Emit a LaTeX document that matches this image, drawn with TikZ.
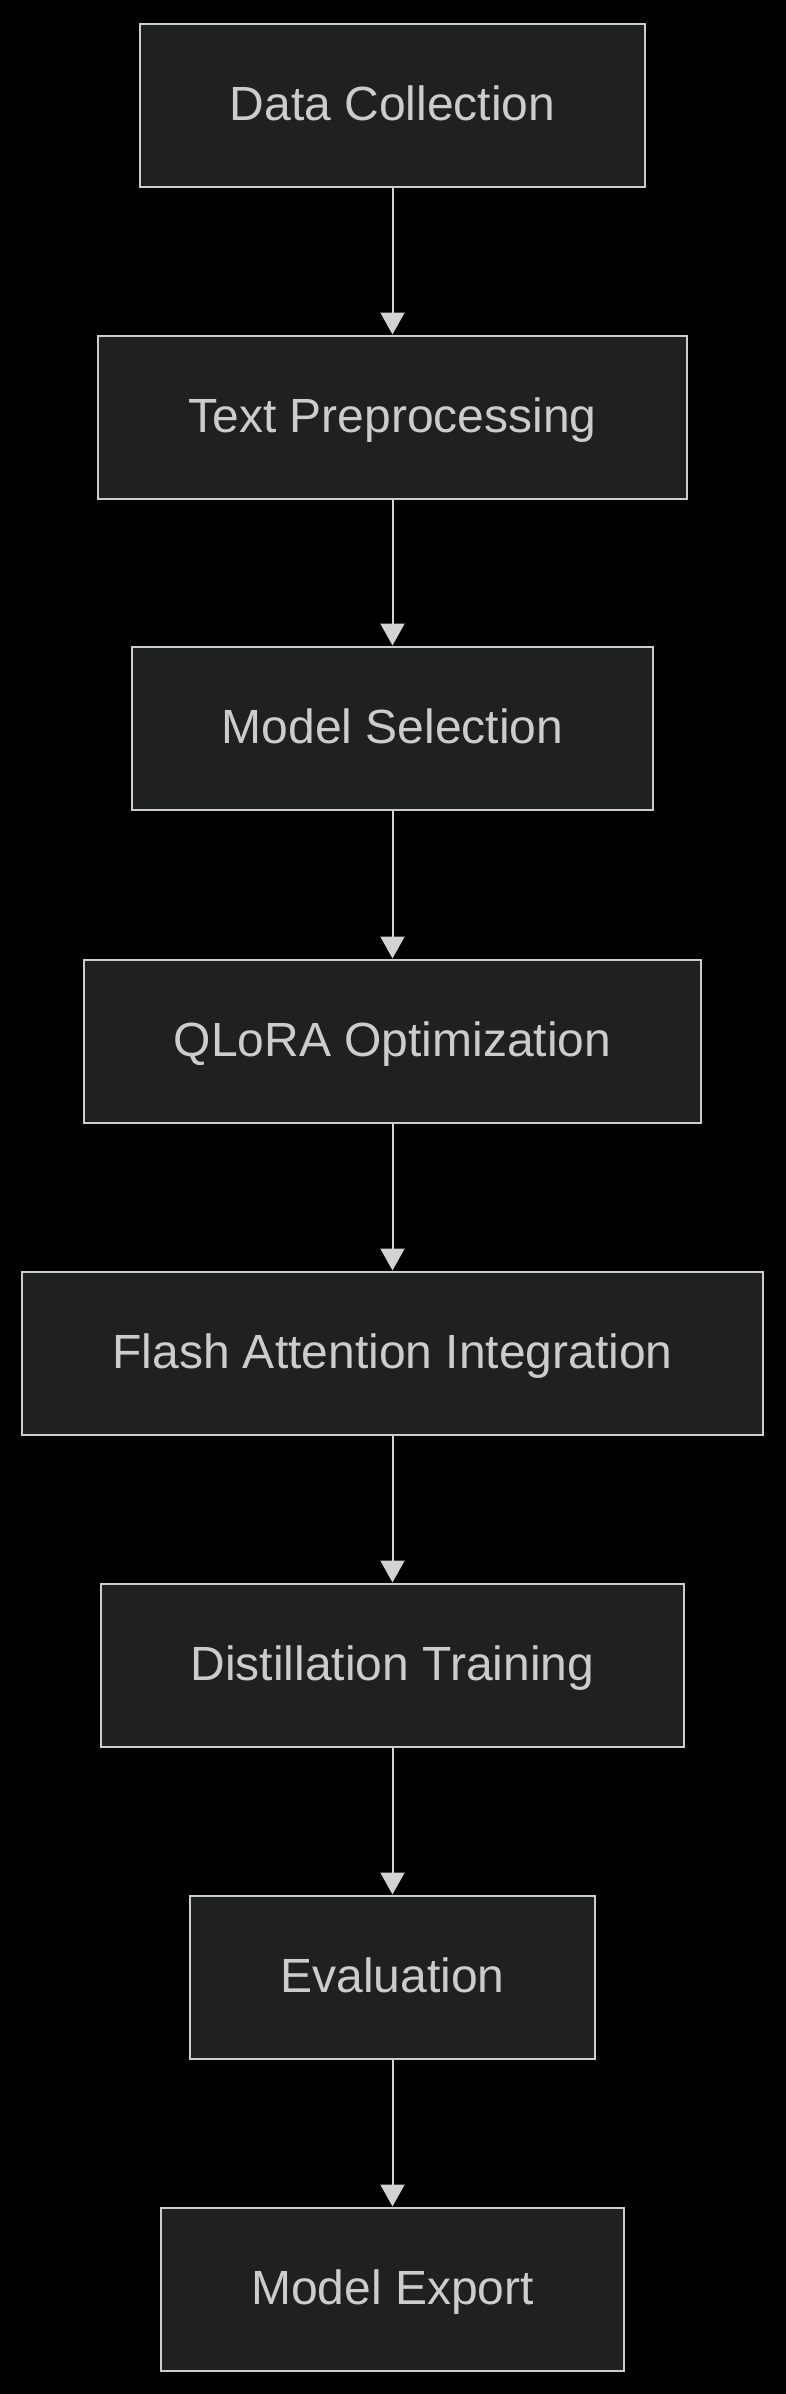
\documentclass[tikz,border=0pt]{standalone}
\usepackage{fontspec}
\setmainfont{Liberation Sans}
\usetikzlibrary{arrows.meta}
\definecolor{bgc}{HTML}{000000}
\definecolor{boxfill}{HTML}{1F2020}
\definecolor{boxline}{HTML}{CCCCCC}
\definecolor{txt}{HTML}{CCCCCC}
\definecolor{edge}{HTML}{D3D3D3}
\tikzset{
  stepbox/.style={draw=boxline, fill=boxfill, line width=2pt, minimum height=163pt,
    inner xsep=90pt, inner ysep=0pt, text=txt, text height=30pt, text depth=0pt,
    font=\fontsize{48}{57}\selectfont},
  flow/.style={draw=edge, line width=2pt, -{Triangle[length=22pt,width=24pt]}}
}
\begin{document}
\begin{tikzpicture}[x=1pt,y=-1pt]
\useasboundingbox (0,0) rectangle (785,2394);
\fill[bgc] (-10,-10) rectangle (795,2404);
\node[stepbox] (n1) at (392.5,105) {Data Collection};
\node[stepbox] (n2) at (392.5,417) {Text Preprocessing};
\node[stepbox] (n3) at (392.5,728) {Model Selection};
\node[stepbox] (n4) at (392.5,1041) {QLoRA Optimization};
\node[stepbox] (n5) at (392.5,1353) {Flash Attention Integration};
\node[stepbox] (n6) at (392.5,1665) {Distillation Training};
\node[stepbox] (n7) at (392.5,1977) {Evaluation};
\node[stepbox] (n8) at (392.5,2289) {Model Export};
\draw[flow] (n1.south) -- (n2.north);
\draw[flow] (n2.south) -- (n3.north);
\draw[flow] (n3.south) -- (n4.north);
\draw[flow] (n4.south) -- (n5.north);
\draw[flow] (n5.south) -- (n6.north);
\draw[flow] (n6.south) -- (n7.north);
\draw[flow] (n7.south) -- (n8.north);
\end{tikzpicture}
\end{document}
